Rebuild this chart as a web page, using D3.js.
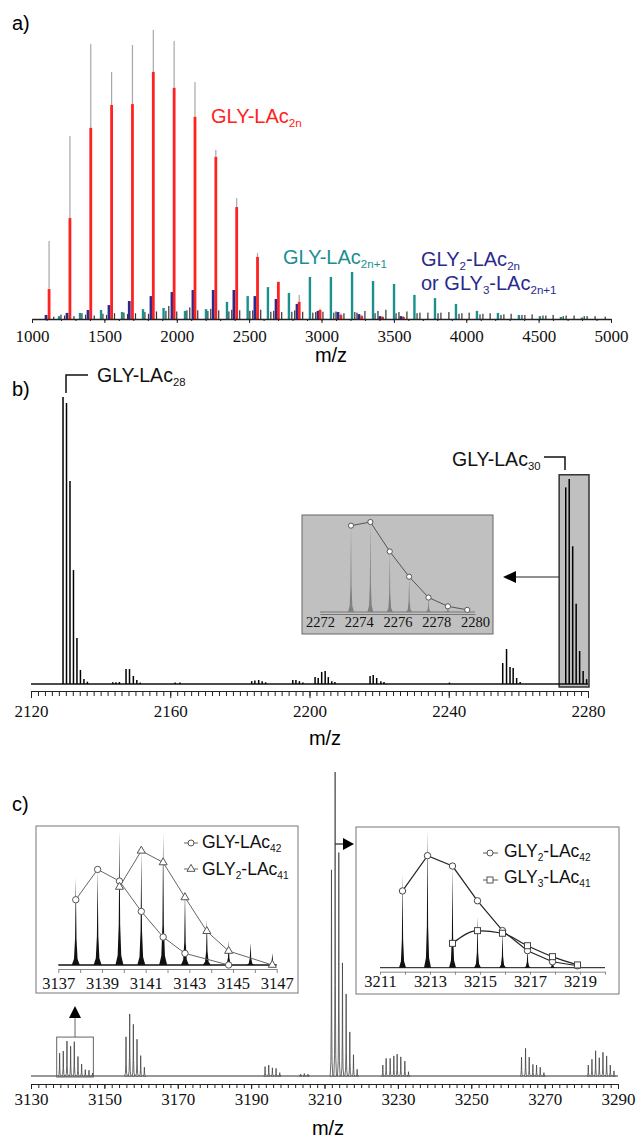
<!DOCTYPE html>
<html>
<head>
<meta charset="utf-8">
<script src="https://cdn.jsdelivr.net/npm/d3@7"></script>
<style>
body { margin: 0; background: #fff; }
svg { display: block; font-family: "Liberation Sans", Arial, sans-serif; }
</style>
</head>
<body>
<svg width="638" height="1138"></svg>
<script>
// ---- panel a: MALDI overview (relative intensity, %)
var redMz = [1118, 1262, 1406, 1550, 1694, 1838, 1982, 2126, 2270, 2414, 2558, 2702, 2846, 2990, 3134, 3278, 3422, 3566];
var redInt = [10.3, 34.8, 65.9, 73.8, 74.1, 85.2, 79.7, 69.7, 55.9, 38.6, 21.4, 12.8, 5.9, 3.1, 1.4, 1.0, 0.7, 0.7];
var grayInt = [26.9, 63.1, 94.8, 85.2, 94.5, 99.7, 95.9, 81.7, 58.3, 41.7, 22.8, 12.8, 8.3, 3.6, 2.0, 1.4, 1.0, 1.0];
var blueMz = [1097, 1242, 1387, 1532, 1672, 1822, 1967, 2112, 2252, 2395, 2540, 2686, 2831, 2976, 3114, 3259, 3404, 3549];
var blueInt = [1.4, 2.1, 3.1, 4.8, 6.2, 7.9, 9.3, 10.0, 10.0, 10.0, 7.9, 6.9, 5.2, 2.8, 2.4, 1.7, 1.0, 1.0];
var tealMz = [1187, 1332, 1477, 1622, 1767, 1909, 2057, 2202, 2347, 2490, 2630, 2775, 2920, 3065, 3211, 3356, 3501, 3642, 3784, 3929, 4074, 4219, 4364, 4509, 4654, 4799];
var tealInt = [1.0, 2.1, 3.1, 2.4, 3.4, 3.8, 2.8, 3.4, 5.9, 7.9, 11.0, 9.0, 14.5, 14.5, 16.2, 13.1, 12.1, 8.3, 7.2, 5.2, 2.8, 2.1, 1.4, 1.0, 0.7, 0.5];
var otherMz = [1150, 1200, 1225, 1290, 1345, 1370, 1430, 1490, 1515, 1570, 1635, 1660, 1715, 1780, 1805, 1860, 1925, 1945, 2000, 2070, 2090, 2145, 2215, 2235, 2290, 2360, 2380, 2435, 2505, 2525, 2580, 2650, 2670, 2725, 2795, 2815, 2870, 2940, 2960, 3010, 3085, 3100, 3155, 3230, 3245, 3300, 3370, 3390, 3445, 3515, 3535, 3590, 3660, 3680, 3735, 3805, 3825, 3880, 3950, 3970, 4020, 4095, 4115, 4165, 4240, 4260, 4310, 4385, 4405, 4455, 4530, 4550, 4600, 4670, 4690, 4745, 4815, 4835, 4890, 4960];
var otherInt = [0.8, 1.5, 1.2, 1.0, 2.0, 1.5, 1.2, 1.8, 1.4, 2.0, 2.2, 1.7, 2.0, 2.4, 1.8, 2.6, 2.8, 4.5, 2.6, 3.0, 4.0, 3.0, 2.8, 3.5, 3.0, 2.6, 3.2, 3.0, 2.8, 3.0, 3.2, 2.5, 2.8, 2.4, 2.5, 3.0, 2.5, 2.2, 2.4, 2.5, 2.2, 2.6, 2.0, 2.4, 2.2, 2.8, 2.0, 2.8, 3.2, 2.0, 2.4, 2.6, 2.0, 2.2, 2.2, 2.0, 2.2, 2.4, 1.8, 2.0, 2.2, 1.6, 1.8, 2.0, 1.4, 1.6, 1.8, 1.4, 1.4, 1.6, 1.2, 1.2, 1.4, 1.0, 1.2, 1.2, 1.0, 1.0, 1.0, 0.8];
var ticksA = [1000, 1500, 2000, 2500, 3000, 3500, 4000, 4500, 5000];

// ---- panel b: 2120-2280 zoom
var bMz = [2129.2, 2130.2, 2131.2, 2132.2, 2133.2, 2134.2, 2135.2, 2136.2,
  2143.5, 2144.4, 2145.4, 2147.3, 2148.3, 2149.4, 2150.4, 2151.4, 2161.4, 2162.8,
  2183.4, 2184.3, 2185.4, 2186.4, 2187.4, 2195.2, 2196.1, 2197.1, 2198.1,
  2201.6, 2202.5, 2203.5, 2204.5, 2205.4, 2206.4, 2207.3,
  2217.4, 2218.3, 2219.3, 2220.5, 2221.4, 2240.2,
  2255.5, 2256.6, 2257.6, 2258.5, 2259.5, 2260.5];
var bInt = [100, 97.9, 70.7, 39.7, 16.0, 4.9, 1.7, 0.8,
  0.6, 0.6, 0.7, 5.2, 5.2, 2.8, 1.4, 0.5, 0.5, 0.5,
  1.0, 1.2, 1.4, 1.0, 0.6, 1.4, 1.4, 1.0, 0.5,
  2.4, 2.1, 4.2, 4.5, 2.4, 1.0, 0.7,
  2.8, 3.1, 2.1, 1.0, 0.7, 0.5,
  7.3, 12.2, 5.9, 5.6, 2.1, 0.7];
var lac30Mz = [2273.6, 2274.6, 2275.6, 2276.6, 2277.6, 2278.6, 2279.6];
var lac30Int = [68.5, 71.4, 48.0, 28.0, 11.5, 4.5, 1.7];
var ticksB = [2120, 2160, 2200, 2240, 2280];
var ticksBInset = [2272, 2274, 2276, 2278, 2280];

// ---- panel c: 3130-3290 zoom
var cMz = [3155.9, 3156.9, 3157.9, 3158.9, 3159.9, 3160.9,
  3193.8, 3194.8, 3195.8, 3196.8, 3197.8, 3203.5, 3204.5, 3205.5,
  3225.9, 3226.8, 3227.9, 3228.9, 3229.8, 3230.8, 3231.9, 3232.9,
  3263.7, 3264.8, 3265.8, 3266.8, 3267.8, 3268.8, 3269.8,
  3281.9, 3282.9, 3283.9, 3284.9, 3285.9, 3286.9, 3287.9, 3288.9];
var cInt = [12.9, 20.4, 17.0, 12.1, 6.7, 2.9,
  3.1, 3.6, 2.7, 2.5, 1.1, 0.6, 0.8, 0.6,
  3.6, 5.8, 5.8, 6.6, 7.2, 6.3, 4.9, 1.4,
  6.2, 9.1, 6.2, 3.8, 3.6, 2.9, 1.1,
  3.6, 5.5, 8.3, 6.0, 7.8, 6.6, 3.6, 1.7];
var leftMz = [3137.8, 3138.8, 3139.8, 3140.8, 3141.8, 3142.8, 3143.8, 3144.8, 3145.8, 3146.8];
var leftInt = [7.5, 8.2, 11.5, 9.8, 11.3, 6.4, 3.9, 2.1, 1.9, 1.0];
var lac42Mz = [3137.8, 3138.8, 3139.8, 3140.8, 3141.8, 3142.8, 3144.8];
var lac42Int = [5.6, 8.2, 7.2, 4.6, 2.4, 1.0, 0.0];
var gly2lac41Mz = [3139.8, 3140.8, 3141.8, 3142.8, 3143.8, 3144.8, 3146.8];
var gly2lac41Int = [6.7, 9.8, 8.8, 5.8, 2.9, 1.2, 0.0];
var rightMz = [3211.9, 3212.9, 3213.9, 3214.9, 3215.9, 3216.9, 3217.9, 3218.9];
var rightInt = [67.8, 100, 73.5, 37.2, 27.0, 14.5, 7.0, 2.2];
var gly2lac42Int = [55.5, 81.0, 73.5, 48.4, 26.8, 12.3, 4.3, 1.4];
var gly3lac41Mz = [3213.9, 3214.9, 3215.9, 3216.9, 3217.9, 3218.9];
var gly3lac41Int = [17.6, 26.8, 24.9, 15.9, 8.0, 2.0];
var ticksC = [3130, 3150, 3170, 3190, 3210, 3230, 3250, 3270, 3290];
var ticksCLeft = [3137, 3139, 3141, 3143, 3145, 3147];
var ticksCRight = [3211, 3213, 3215, 3217, 3219];

(function () {
    var svg = d3.select("svg");
    var serif = "'Liberation Serif', 'Times New Roman', serif";
    var red = "#ff2222", teal = "#1c8f8f", navy = "#2a2a8e";
    var fmt = d3.format("d");

    svg.append("rect").attr("width", 638).attr("height", 1138).attr("fill", "#fff");

    // text with subscripts: parts = [[text, isSub], ...]
    function rich(g, x, y, parts, size, color) {
        var t = g.append("text").attr("x", x).attr("y", y)
            .attr("font-size", size).attr("fill", color);
        var down = false;
        parts.forEach(function (p) {
            var s = t.append("tspan").text(p[0]);
            if (p[1]) {
                s.attr("font-size", size * 0.58);
                if (!down) { s.attr("dy", size * 0.2); down = true; }
            } else if (down) {
                s.attr("dy", -size * 0.2); down = false;
            }
        });
        return t;
    }

    function styleAxis(ax, size) {
        ax.selectAll("text").style("font-family", serif).style("font-size", size + "px").attr("fill", "#111");
        ax.selectAll("line").attr("stroke", "#222");
        ax.select(".domain").attr("stroke", "#222");
    }

    // narrow profile peak shape, offsets in px
    function peakPath(x, yb, yt, w) {
        var off = [-1, -0.45, -0.18, 0, 0.18, 0.45, 1];
        var fr = [0, 0.07, 0.3, 1, 0.3, 0.07, 0];
        return "M" + off.map(function (o, i) {
            return (x + o * w) + "," + (yb - fr[i] * (yb - yt));
        }).join("L") + "Z";
    }

    // ================= panel a =================
    var xa = d3.scaleLinear().domain([1000, 5000]).range([32, 611]);
    var ya = d3.scaleLinear().domain([0, 100]).range([319, 29]);
    var ga = svg.append("g");

    ga.selectAll(".oth").data(otherMz).enter().append("rect")
        .attr("x", function (d) { return xa(d) - 0.6; })
        .attr("width", 1.2)
        .attr("y", function (d, i) { return ya(otherInt[i]); })
        .attr("height", function (d, i) { return ya(0) - ya(otherInt[i]); })
        .attr("fill", "#333");

    ga.selectAll(".gry").data(redMz).enter().append("rect")
        .attr("x", function (d) { return xa(d) - 0.6; })
        .attr("width", 1.2)
        .attr("y", function (d, i) { return ya(grayInt[i]); })
        .attr("height", function (d, i) { return ya(0) - ya(grayInt[i]); })
        .attr("fill", "#a8a8a8");

    ga.selectAll(".teal").data(tealMz).enter().append("rect")
        .attr("x", function (d) { return xa(d) - 1.2; })
        .attr("width", 2.4)
        .attr("y", function (d, i) { return ya(tealInt[i]); })
        .attr("height", function (d, i) { return ya(0) - ya(tealInt[i]); })
        .attr("fill", teal);

    ga.selectAll(".blue").data(blueMz).enter().append("rect")
        .attr("x", function (d) { return xa(d) - 1.4; })
        .attr("width", 2.8)
        .attr("y", function (d, i) { return ya(blueInt[i]); })
        .attr("height", function (d, i) { return ya(0) - ya(blueInt[i]); })
        .attr("fill", navy);

    ga.selectAll(".red").data(redMz).enter().append("rect")
        .attr("x", function (d) { return xa(d) - 1.4; })
        .attr("width", 2.8)
        .attr("y", function (d, i) { return ya(redInt[i]); })
        .attr("height", function (d, i) { return ya(0) - ya(redInt[i]); })
        .attr("fill", red);

    ga.append("g").attr("transform", "translate(0,319)")
        .call(d3.axisBottom(xa).tickValues(d3.range(1000, 5001, 100)).tickSize(2).tickFormat("").tickSizeOuter(0))
        .call(function (ax) { styleAxis(ax, 17); });
    var axA = ga.append("g").attr("transform", "translate(0,319)")
        .call(d3.axisBottom(xa).tickValues(ticksA).tickFormat(fmt).tickSize(4).tickPadding(7).tickSizeOuter(0));
    styleAxis(axA, 17);
    axA.select(".domain").attr("stroke-width", 1.3);

    ga.append("text").attr("x", 12).attr("y", 30).attr("font-size", 20).text("a)");
    ga.append("text").attr("x", 331).attr("y", 362).attr("font-size", 20)
        .attr("text-anchor", "middle").text("m/z");
    rich(ga, 211, 123, [["GLY-LAc", 0], ["2n", 1]], 20, red);
    rich(ga, 283, 264, [["GLY-LAc", 0], ["2n+1", 1]], 20, teal);
    rich(ga, 421, 266, [["GLY", 0], ["2", 1], ["-LAc", 0], ["2n", 1]], 20, navy);
    rich(ga, 421, 290, [["or GLY", 0], ["3", 1], ["-LAc", 0], ["2n+1", 1]], 20, navy);

    // ================= panel b =================
    var xb = d3.scaleLinear().domain([2120, 2280]).range([31, 588]);
    var yb = d3.scaleLinear().domain([0, 100]).range([684, 397]);
    var gb = svg.append("g");

    // highlight box around GLY-LAc30
    gb.append("rect")
        .attr("x", xb(2272) - 1).attr("y", yb(d3.max(lac30Int) + 1.5))
        .attr("width", xb(2280) - xb(2272) + 2).attr("height", yb(0) - yb(d3.max(lac30Int) + 1.5) + 3)
        .attr("fill", "#c0c0c0").attr("stroke", "#333").attr("stroke-width", 1.5);

    gb.append("line").attr("x1", xb(2120)).attr("x2", xb(2280))
        .attr("y1", yb(0)).attr("y2", yb(0)).attr("stroke", "#111").attr("stroke-width", 1.3);

    var bAll = bMz.concat(lac30Mz), bAllInt = bInt.concat(lac30Int);
    gb.selectAll(".pk").data(bAll).enter().append("line")
        .attr("x1", function (d) { return xb(d); }).attr("x2", function (d) { return xb(d); })
        .attr("y1", yb(0)).attr("y2", function (d, i) { return yb(bAllInt[i]); })
        .attr("stroke", "#000").attr("stroke-width", 1.5);

    gb.append("g").attr("transform", "translate(0,691)")
        .call(d3.axisBottom(xb).tickValues(d3.range(2120, 2281, 2)).tickSize(5).tickFormat("").tickSizeOuter(0))
        .call(function (ax) { styleAxis(ax, 17); });
    var axB = gb.append("g").attr("transform", "translate(0,691)")
        .call(d3.axisBottom(xb).tickValues(ticksB).tickFormat(fmt).tickSize(7).tickPadding(7).tickSizeOuter(0));
    styleAxis(axB, 17);
    axB.select(".domain").attr("stroke-width", 1.2);

    gb.append("text").attr("x", 12).attr("y", 396).attr("font-size", 20).text("b)");
    gb.append("text").attr("x", 325).attr("y", 745).attr("font-size", 20)
        .attr("text-anchor", "middle").text("m/z");
    gb.append("path").attr("d", "M66,393V375H88").attr("fill", "none").attr("stroke", "#111").attr("stroke-width", 1.5);
    rich(gb, 97, 382, [["GLY-LAc", 0], ["28", 1]], 19.5, "#111");
    gb.append("path").attr("d", "M544,457H565V470").attr("fill", "none").attr("stroke", "#111").attr("stroke-width", 1.5);
    rich(gb, 452, 466, [["GLY-LAc", 0], ["30", 1]], 19.5, "#111");

    // arrow to inset
    gb.append("line").attr("x1", xb(2272) - 1).attr("x2", 515).attr("y1", 577).attr("y2", 577)
        .attr("stroke", "#222").attr("stroke-width", 1.2);
    gb.append("path").attr("d", "M503,577L516,571L516,583Z").attr("fill", "#000");

    // inset b
    gb.append("rect").attr("x", 302).attr("y", 515).attr("width", 191).attr("height", 119)
        .attr("fill", "#c0c0c0").attr("stroke", "#666").attr("stroke-width", 1);
    var xbi = d3.scaleLinear().domain([2272, 2280]).range([320, 475]);
    var ybi = d3.scaleLinear().domain([0, d3.max(lac30Int)]).range([612, 522]);
    gb.append("line").attr("x1", xbi(2272)).attr("x2", xbi(2280)).attr("y1", 612).attr("y2", 612)
        .attr("stroke", "#777").attr("stroke-width", 1);
    gb.selectAll(".ipk").data(lac30Mz).enter().append("path")
        .attr("d", function (d, i) { return peakPath(xbi(d), 612, ybi(lac30Int[i]), 3); })
        .attr("fill", "#808080");
    var axBI = gb.append("g").attr("transform", "translate(0,614)")
        .call(d3.axisBottom(xbi).tickValues(ticksBInset).tickFormat(fmt).tickSize(0).tickPadding(3).tickSizeOuter(0));
    styleAxis(axBI, 14.5);
    axBI.select(".domain").attr("stroke", "#777");
    gb.append("path")
        .datum(lac30Mz)
        .attr("d", d3.line().x(function (d) { return xbi(d); }).y(function (d, i) { return ybi(lac30Int[i]); }))
        .attr("fill", "none").attr("stroke", "#555").attr("stroke-width", 1);
    gb.selectAll(".icirc").data(lac30Mz).enter().append("circle")
        .attr("cx", function (d) { return xbi(d); })
        .attr("cy", function (d, i) { return ybi(lac30Int[i]); })
        .attr("r", 2.6).attr("fill", "#fff").attr("stroke", "#555");

    // ================= panel c =================
    var xc = d3.scaleLinear().domain([3130, 3290]).range([31, 618]);
    var yc = d3.scaleLinear().domain([0, 100]).range([1076, 772]);
    var gc = svg.append("g");

    gc.append("line").attr("x1", xc(3130)).attr("x2", xc(3290)).attr("y1", yc(0)).attr("y2", yc(0))
        .attr("stroke", "#333").attr("stroke-width", 1);
    var cAllMz = cMz.concat(leftMz, rightMz), cAllInt = cInt.concat(leftInt, rightInt);
    gc.selectAll(".cpk").data(cAllMz).enter().append("path")
        .attr("d", function (d, i) { return peakPath(xc(d), yc(0), yc(cAllInt[i]), 1.3); })
        .attr("fill", "#fff").attr("stroke", "#444").attr("stroke-width", 0.8);

    gc.append("g").attr("transform", "translate(0,1084)")
        .call(d3.axisBottom(xc).tickValues(d3.range(3130, 3291, 2)).tickSize(4).tickFormat("").tickSizeOuter(0))
        .call(function (ax) { styleAxis(ax, 17); });
    var axC = gc.append("g").attr("transform", "translate(0,1084)")
        .call(d3.axisBottom(xc).tickValues(ticksC).tickFormat(fmt).tickSize(5).tickPadding(4).tickSizeOuter(0));
    styleAxis(axC, 17);
    axC.select(".domain").attr("stroke-width", 1.2);

    gc.append("text").attr("x", 12).attr("y", 811).attr("font-size", 20).text("c)");
    gc.append("text").attr("x", 328).attr("y", 1135).attr("font-size", 20)
        .attr("text-anchor", "middle").text("m/z");

    // small box + up arrow
    var boxTop = yc(d3.max(leftInt) + 1.3);
    gc.append("rect").attr("x", xc(3137)).attr("y", boxTop)
        .attr("width", xc(3147) - xc(3137)).attr("height", yc(0) + 1 - boxTop)
        .attr("fill", "none").attr("stroke", "#666").attr("stroke-width", 1);
    var ax0 = xc(3142);
    gc.append("line").attr("x1", ax0).attr("x2", ax0).attr("y1", boxTop).attr("y2", 1017)
        .attr("stroke", "#666").attr("stroke-width", 1);
    gc.append("path").attr("d", "M" + ax0 + ",1006L" + (ax0 - 6) + ",1018L" + (ax0 + 6) + ",1018Z").attr("fill", "#000");

    // right arrow
    var tx = xc(3212.9);
    gc.append("line").attr("x1", tx).attr("x2", 344).attr("y1", 844).attr("y2", 844)
        .attr("stroke", "#222").attr("stroke-width", 1.2);
    gc.append("path").attr("d", "M354,844L343,838L343,850Z").attr("fill", "#000");

    // left inset
    gc.append("rect").attr("x", 36).attr("y", 826).attr("width", 262).attr("height", 167)
        .attr("fill", "#fff").attr("stroke", "#777").attr("stroke-width", 1);
    var xl = d3.scaleLinear().domain([3137, 3147]).range([58.3, 276.7]);
    var yl = d3.scaleLinear().domain([0, 11.5]).range([965, 831]);
    gc.append("line").attr("x1", xl(3137)).attr("x2", xl(3147)).attr("y1", yl(0)).attr("y2", yl(0))
        .attr("stroke", "#111").attr("stroke-width", 1.4);
    gc.selectAll(".lpk").data(leftMz).enter().append("path")
        .attr("d", function (d, i) { return peakPath(xl(d), yl(0), yl(leftInt[i]), 4); })
        .attr("fill", "#111");
    var axL = gc.append("g").attr("transform", "translate(0,969)")
        .call(d3.axisBottom(xl).tickValues(d3.range(3137, 3148, 1)).tickSize(4).tickPadding(4).tickSizeOuter(0)
            .tickFormat(function (d) { return ticksCLeft.indexOf(d) >= 0 ? fmt(d) : ""; }));
    styleAxis(axL, 16.5);
    axL.selectAll("line, .domain").attr("stroke", "#888");

    var lineL = function (mz, v) {
        return d3.line().x(function (d) { return xl(d); }).y(function (d, i) { return yl(v[i]); })(mz);
    };
    gc.append("path").attr("d", lineL(lac42Mz, lac42Int)).attr("fill", "none").attr("stroke", "#666").attr("stroke-width", 1);
    gc.append("path").attr("d", lineL(gly2lac41Mz, gly2lac41Int)).attr("fill", "none").attr("stroke", "#666").attr("stroke-width", 1);
    gc.selectAll(".lc").data(lac42Mz).enter().append("circle")
        .attr("cx", function (d) { return xl(d); }).attr("cy", function (d, i) { return yl(lac42Int[i]); })
        .attr("r", 3.2).attr("fill", "#fff").attr("stroke", "#555");
    var tri = d3.symbol().type(d3.symbolTriangle).size(28);
    gc.selectAll(".lt").data(gly2lac41Mz).enter().append("path")
        .attr("d", tri)
        .attr("transform", function (d, i) { return "translate(" + xl(d) + "," + yl(gly2lac41Int[i]) + ")"; })
        .attr("fill", "#fff").attr("stroke", "#555");
    // legend left
    gc.append("line").attr("x1", 184).attr("x2", 198).attr("y1", 843).attr("y2", 843).attr("stroke", "#666");
    gc.append("circle").attr("cx", 191).attr("cy", 843).attr("r", 3).attr("fill", "#fff").attr("stroke", "#555");
    rich(gc, 202, 848, [["GLY-LAc", 0], ["42", 1]], 17.5, "#111");
    gc.append("line").attr("x1", 184).attr("x2", 198).attr("y1", 869).attr("y2", 869).attr("stroke", "#666");
    gc.append("path").attr("d", tri).attr("transform", "translate(191,869)").attr("fill", "#fff").attr("stroke", "#555");
    rich(gc, 202, 875, [["GLY", 0], ["2", 1], ["-LAc", 0], ["41", 1]], 17.5, "#111");

    // right inset
    gc.append("rect").attr("x", 356).attr("y", 827).attr("width", 263).attr("height", 167)
        .attr("fill", "#fff").attr("stroke", "#777").attr("stroke-width", 1);
    var xr = d3.scaleLinear().domain([3211, 3220]).range([380, 605]);
    var yr = d3.scaleLinear().domain([0, 100]).range([967.7, 829.4]);
    gc.append("line").attr("x1", xr(3211)).attr("x2", xr(3220)).attr("y1", yr(0)).attr("y2", yr(0))
        .attr("stroke", "#111").attr("stroke-width", 1);
    gc.selectAll(".rpk").data(rightMz).enter().append("path")
        .attr("d", function (d, i) { return peakPath(xr(d), yr(0), yr(rightInt[i]), 3.5); })
        .attr("fill", "#111");
    var axR = gc.append("g").attr("transform", "translate(0,971.7)")
        .call(d3.axisBottom(xr).tickValues(d3.range(3211, 3221, 1)).tickSize(3).tickPadding(1).tickSizeOuter(0)
            .tickFormat(function (d) { return ticksCRight.indexOf(d) >= 0 ? fmt(d) : ""; }));
    styleAxis(axR, 16.5);
    axR.selectAll("line, .domain").attr("stroke", "#888");

    gc.append("path")
        .attr("d", d3.line().x(function (d) { return xr(d); }).y(function (d, i) { return yr(gly2lac42Int[i]); })(rightMz))
        .attr("fill", "none").attr("stroke", "#222").attr("stroke-width", 1.2);
    gc.append("path")
        .attr("d", d3.line().curve(d3.curveMonotoneX).x(function (d) { return xr(d); }).y(function (d, i) { return yr(gly3lac41Int[i]); })(gly3lac41Mz))
        .attr("fill", "none").attr("stroke", "#222").attr("stroke-width", 1.2);
    gc.selectAll(".rc").data(rightMz).enter().append("circle")
        .attr("cx", function (d) { return xr(d); }).attr("cy", function (d, i) { return yr(gly2lac42Int[i]); })
        .attr("r", 3.2).attr("fill", "#fff").attr("stroke", "#444");
    gc.selectAll(".rs").data(gly3lac41Mz).enter().append("rect")
        .attr("x", function (d) { return xr(d) - 3; }).attr("y", function (d, i) { return yr(gly3lac41Int[i]) - 3; })
        .attr("width", 6).attr("height", 6).attr("fill", "#fff").attr("stroke", "#444");
    // legend right
    gc.append("line").attr("x1", 483).attr("x2", 498).attr("y1", 853).attr("y2", 853).attr("stroke", "#555");
    gc.append("circle").attr("cx", 490).attr("cy", 853).attr("r", 3).attr("fill", "#fff").attr("stroke", "#555");
    rich(gc, 504, 857, [["GLY", 0], ["2", 1], ["-LAc", 0], ["42", 1]], 17.5, "#111");
    gc.append("line").attr("x1", 483).attr("x2", 498).attr("y1", 880).attr("y2", 880).attr("stroke", "#555");
    gc.append("rect").attr("x", 487).attr("y", 877).attr("width", 6).attr("height", 6).attr("fill", "#fff").attr("stroke", "#555");
    rich(gc, 504, 883, [["GLY", 0], ["3", 1], ["-LAc", 0], ["41", 1]], 17.5, "#111");
}());
</script>
</body>
</html>
